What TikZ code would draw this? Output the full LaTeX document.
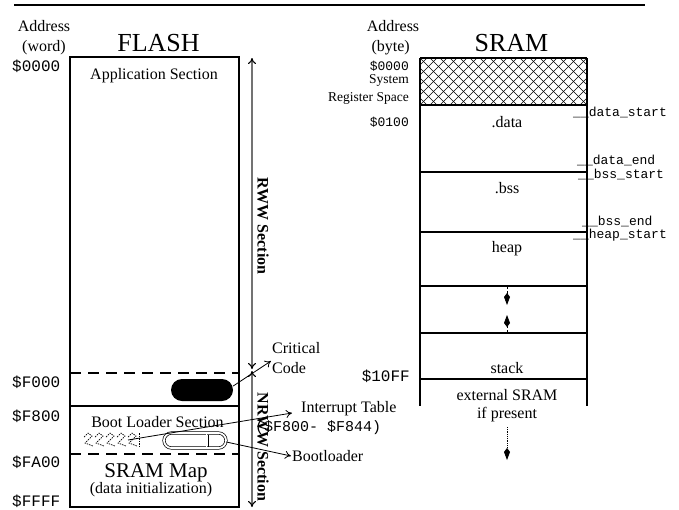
\documentclass[tikz,border=0pt]{standalone}
\usepackage{fontspec}
\setmainfont{Liberation Serif}
\setmonofont{Liberation Mono}
\usetikzlibrary{arrows.meta}
\begin{document}
\begin{tikzpicture}[x=1pt,y=-1pt,
  lbl/.style={inner sep=0pt, font=\fontsize{16}{19}\selectfont},
  lblsm/.style={inner sep=0pt, font=\fontsize{13.5}{15}\selectfont},
  ttl/.style={inner sep=0pt, font=\fontsize{26}{30}\selectfont},
  mono/.style={inner sep=0pt, font=\ttfamily\fontsize{16}{19}\selectfont},
  monomid/.style={inner sep=0pt, font=\ttfamily\fontsize{15}{18}\selectfont},
  monosm/.style={inner sep=0pt, font=\ttfamily\fontsize{13}{15}\selectfont},
  monolab/.style={inner sep=0pt, font=\ttfamily\fontsize{13}{15}\selectfont},
  rotlbl/.style={inner sep=0pt, rotate=-90, font=\bfseries\fontsize{16}{19}\selectfont},
  memline/.style={line width=2.6pt},
  sepdash/.style={line width=2.6pt, dash pattern=on 11pt off 7pt},
  thinarrow/.style={line width=0.8pt, -{To[length=6pt,width=8pt]}},
  secarrow/.style={line width=1.1pt, draw=black!55, {To[length=6pt,width=8pt,color=black]}-{To[length=6pt,width=8pt,color=black]}},
  growarrow/.style={line width=0.8pt, dash pattern=on 3pt off 2pt, -{Kite[length=12pt,width=6pt,inset=4pt]}},
  extarrow/.style={line width=0.8pt, densely dotted, -{Kite[length=12pt,width=6pt,inset=4pt]}},
  zig/.style={line width=0.7pt, dash pattern=on 1.5pt off 1pt},
  hatch/.style={line width=0.6pt}
]
\useasboundingbox (0,0) rectangle (679,509);

% top rule
\coordinate (rl) at (14,5);
\coordinate (rr) at (645,5);
\draw[line width=2.6pt] (rl) -- (rr);

% ---------------- FLASH ----------------
\node[lbl, anchor=base] (faddr) at (44,31) {Address};
\node[lbl, anchor=base] (fword) at (44,51) {(word)};
\node[ttl, anchor=base] (flash) at (158.5,51) {FLASH};
\node[mono, anchor=base west] (f0) at (12,71) {\$0000};
\node[mono, anchor=base west] (f1) at (12,387) {\$F000};
\node[mono, anchor=base west] (f2) at (12,421) {\$F800};
\node[mono, anchor=base west] (f3) at (12,467) {\$FA00};
\node[mono, anchor=base west] (f4) at (12,506) {\$FFFF};

\draw[memline] (70,57) rectangle (239,507);
\draw[memline] (70,406) -- (239,406);
\draw[sepdash] (70,373) -- (239,373);
\draw[sepdash] (70,454) -- (239,454);

\node[lbl, anchor=base] (app) at (154,79) {Application Section};
\node[lbl, anchor=base] (boot) at (157.5,427) {Boot Loader Section};
\node[inner sep=0pt, anchor=base, font=\fontsize{21}{24}\selectfont] (smap) at (156,477) {SRAM Map};
\node[lbl, anchor=base] (dinit) at (151,493) {(data initialization)};

% critical code block
\node[fill=black, rounded corners=11pt, minimum width=62pt, minimum height=22pt, inner sep=0pt] (crit) at (202,390) {};
% bootloader capsule
\node[draw, double, double distance=1.8pt, line width=0.7pt, rounded corners=7.5pt, minimum width=62pt, minimum height=15pt, inner sep=0pt] (cap) at (195,440.5) {};
\draw[white, line width=1.2pt] (206.5,432) -- (206.5,449);
\draw[line width=0.5pt] (208.5,434.5) -- (208.5,446.5);

% interrupt table zigzags
\foreach \x in {84,95,106,117,128}{
  \draw[zig] (\x,437) -- (\x+4,433) -- (\x+8,436) -- (\x+1,443) -- (\x+9,446);
}
\draw[zig] (139,433) -- (139,447);
\coordinate (zz) at (128,440);

% section arrows
\coordinate (rwwT) at (252,58);
\coordinate (rwwB) at (252,369);
\coordinate (nrwT) at (252,371);
\coordinate (nrwB) at (252,507);
\draw[secarrow] (rwwT) -- (rwwB);
\draw[secarrow] (nrwT) -- (nrwB);
\node[rotlbl] (rww) at (263,226) {RWW Section};
\node[rotlbl] (nrww) at (263,447) {NRWW Section};

% callouts
\node[lbl, anchor=base west] (crit1) at (272,353) {Critical};
\node[lbl, anchor=base west] (crit2) at (272,373) {Code};
\node[lbl, anchor=base west] (intt) at (301,412) {Interrupt Table};
\node[monomid, anchor=base west] (intr) at (255,431) {(\$F800- \$F844)};
\node[lbl, anchor=base west] (bl) at (292,461) {Bootloader};
\coordinate (critTip) at (271,361);
\coordinate (intTip) at (292,413);
\coordinate (blTip) at (291,456);
\draw[thinarrow] ([yshift=4pt]crit.east) -- (critTip);
\draw[thinarrow] (zz) -- (intTip);
\draw[thinarrow] ([yshift=-1.5pt]cap.east) -- (blTip);

% ---------------- SRAM ----------------
\node[lbl, anchor=base] (saddr) at (393,31) {Address};
\node[lbl, anchor=base east] (sbyte) at (410,51) {(byte)};
\node[ttl, anchor=base] (sram) at (511.5,51) {SRAM};
\node[monosm, anchor=base east] (s0) at (409,70) {\$0000};
\node[lblsm, anchor=base east] (sys) at (409,83) {System};
\node[lblsm, anchor=base east] (reg) at (409,101) {Register Space};
\node[monosm, anchor=base east] (s1) at (409,126) {\$0100};
\node[mono, anchor=base east] (s2) at (410,381) {\$10FF};

% hatched register space
\begin{scope}
  \clip (420,58) rectangle (587,105);
  \foreach \i in {-50,-40,...,170}{
    \draw[hatch] (420+\i,105) -- ++(47,-47);
    \draw[hatch] (420+\i,58) -- ++(47,47);
  }
\end{scope}

\draw[memline] (420,58) -- (420,406);
\draw[memline] (587,58) -- (587,406);
\foreach \yy in {58,105,172,232,286,333,379}{
  \draw[memline] (420,\yy) -- (587,\yy);
}

\node[lbl, anchor=base] (sdata) at (507,127) {.data};
\node[lbl, anchor=base] (sbss) at (507,193) {.bss};
\node[lbl, anchor=base] (sheap) at (507,252) {heap};
\node[lbl, anchor=base] (sstack) at (507,373) {stack};
\node[lbl, anchor=base] (sext) at (507,400) {external SRAM};
\node[lbl, anchor=base] (spres) at (507,418) {if present};

\coordinate (g1a) at (507,286);
\coordinate (g1b) at (507,305);
\coordinate (g2a) at (507,333);
\coordinate (g2b) at (507,315);
\draw[growarrow] (g1a) -- (g1b);
\draw[growarrow] (g2a) -- (g2b);
\coordinate (e1) at (507,427);
\coordinate (e2) at (507,460);
\draw[extarrow] (e1) -- (e2);

\node[monolab, anchor=base west] (ds) at (573,116) {\_\_data\_start};
\node[monolab, anchor=base west] (de) at (577,164) {\_\_data\_end};
\node[monolab, anchor=base west] (bs) at (578,178) {\_\_bss\_start};
\node[monolab, anchor=base west] (be) at (582,225) {\_\_bss\_end};
\node[monolab, anchor=base west] (hs) at (573,238) {\_\_heap\_start};
\end{tikzpicture}
\end{document}
